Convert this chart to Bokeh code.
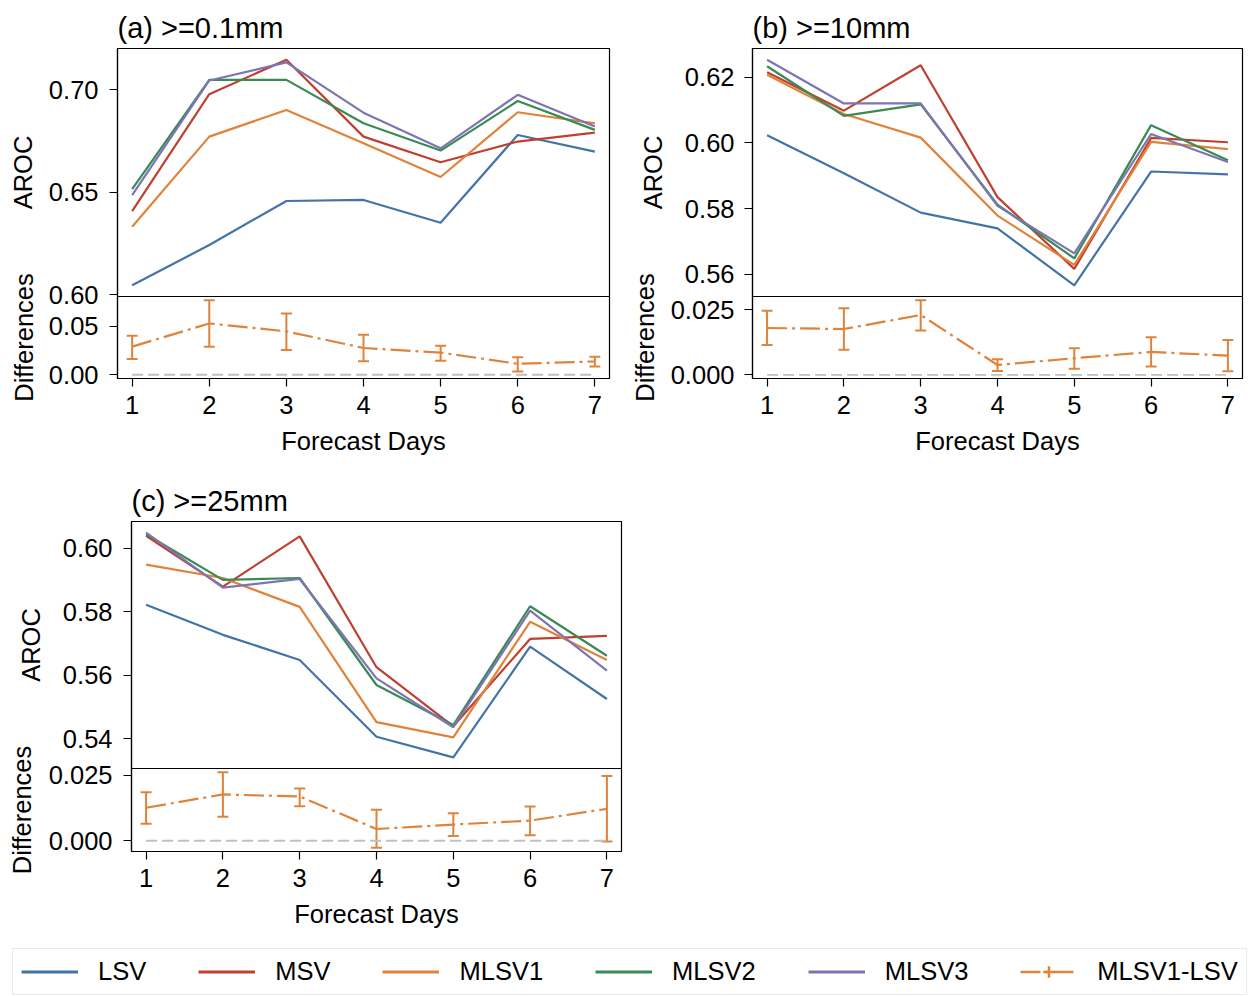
from bokeh.plotting import figure
from bokeh.models import (Range1d, FixedTicker, CustomJSTickFormatter, Whisker, TeeHead,
                          ColumnDataSource, Label, Legend, LegendItem, Span)
from bokeh.layouts import row, column
from bokeh.embed import file_html
from bokeh.resources import INLINE
import math

# ---------------- data ----------------
days = [1, 2, 3, 4, 5, 6, 7]
model_names = ["LSV", "MSV", "MLSV1", "MLSV2", "MLSV3"]
diff_name = "MLSV1-LSV"

a_LSV = [0.6047, 0.6243, 0.6458, 0.6463, 0.6352, 0.6780, 0.6699]
a_MSV = [0.6409, 0.6979, 0.7147, 0.6772, 0.6647, 0.6748, 0.6792]
a_MLSV1 = [0.6332, 0.6772, 0.6902, 0.6740, 0.6575, 0.6891, 0.6837]
a_MLSV2 = [0.6516, 0.7049, 0.7049, 0.6837, 0.6704, 0.6946, 0.6805]
a_MLSV3 = [0.6487, 0.7046, 0.7134, 0.6889, 0.6715, 0.6976, 0.6821]
a_diff = [0.0291, 0.0531, 0.0449, 0.0277, 0.0229, 0.0113, 0.0137]
a_lo = [0.0164, 0.0291, 0.0257, 0.0140, 0.0144, 0.0034, 0.0086]
a_hi = [0.0404, 0.0771, 0.0634, 0.0414, 0.0301, 0.0182, 0.0185]

b_LSV = [0.6023, 0.5908, 0.5788, 0.5740, 0.5567, 0.5913, 0.5904]
b_MSV = [0.6215, 0.6098, 0.6236, 0.5835, 0.5617, 0.6015, 0.6002]
b_MLSV1 = [0.6207, 0.6088, 0.6016, 0.5779, 0.5629, 0.6003, 0.5981]
b_MLSV2 = [0.6233, 0.6082, 0.6117, 0.5812, 0.5649, 0.6054, 0.5947]
b_MLSV3 = [0.6253, 0.6120, 0.6120, 0.5809, 0.5664, 0.6027, 0.5942]
b_diff = [0.0180, 0.0176, 0.0230, 0.0038, 0.0064, 0.0088, 0.0074]
b_lo = [0.0115, 0.0096, 0.0170, 0.0015, 0.0023, 0.0032, 0.0014]
b_hi = [0.0246, 0.0256, 0.0287, 0.0060, 0.0102, 0.0144, 0.0134]

c_LSV = [0.5823, 0.5728, 0.5649, 0.5407, 0.5342, 0.5691, 0.5526]
c_MSV = [0.6040, 0.5880, 0.6038, 0.5626, 0.5440, 0.5715, 0.5725]
c_MLSV1 = [0.5949, 0.5907, 0.5816, 0.5453, 0.5405, 0.5769, 0.5649]
c_MLSV2 = [0.6045, 0.5901, 0.5907, 0.5570, 0.5444, 0.5818, 0.5662]
c_MLSV3 = [0.6050, 0.5877, 0.5904, 0.5591, 0.5437, 0.5804, 0.5615]
c_diff = [0.0126, 0.0177, 0.0169, 0.0045, 0.0062, 0.0077, 0.0122]
c_lo = [0.0065, 0.0092, 0.0132, -0.0027, 0.0018, 0.0021, -0.0003]
c_hi = [0.0185, 0.0262, 0.0200, 0.0118, 0.0105, 0.0131, 0.0247]

zero_line = [0, 0, 0, 0, 0, 0, 0]

a_top_ticks = [0.60, 0.65, 0.70]
a_bot_ticks = [0.00, 0.05]
b_top_ticks = [0.56, 0.58, 0.60, 0.62]
b_bot_ticks = [0.000, 0.025]
c_top_ticks = [0.54, 0.56, 0.58, 0.60]
c_bot_ticks = [0.000, 0.025]

titles = ["(a) >=0.1mm", "(b) >=10mm", "(c) >=25mm"]
y_label_top = "AROC"
y_label_bot = "Differences"
x_label = "Forecast Days"

# ---------------- style ----------------
FONT = "Liberation Sans"
FS = "25.5px"
colors = {"LSV": "#4374a8", "MSV": "#c0402f", "MLSV1": "#e0833a",
          "MLSV2": "#3a8a55", "MLSV3": "#7d75b1"}
ORANGE = colors["MLSV1"]


def style_axis(ax, standoff):
    ax.axis_line_color = "black"
    ax.axis_line_width = 1.2
    ax.major_tick_line_color = "black"
    ax.major_tick_line_width = 1.2
    ax.major_tick_out = 8
    ax.major_tick_in = 0
    ax.minor_tick_line_color = None
    ax.major_label_text_font = FONT
    ax.major_label_text_font_size = FS
    ax.major_label_text_color = "black"
    ax.major_label_standoff = standoff
    ax.axis_label_text_font = FONT
    ax.axis_label_text_font_size = FS
    ax.axis_label_text_font_style = "normal"
    ax.axis_label_text_color = "black"


def make_panel(title, series, diff, lo, hi, top_rng, top_ticks, top_dec,
               bot_rng, bot_ticks, bot_dec, left, right, top_border, top_h, bot_h,
               bot_border, ystand):
    frame_w = 492
    frame_h = top_h + bot_h
    # the AROC scale fills the upper part of the frame, the difference scale the lower part
    t0, t1 = top_rng
    s = t1 - (t1 - t0) * frame_h / top_h
    d0, d1 = bot_rng
    de = d0 + (d1 - d0) * frame_h / bot_h

    p = figure(width=left + frame_w + right, height=top_border + frame_h + bot_border,
               x_range=Range1d(0.81, 7.19), y_range=Range1d(s, t1),
               extra_y_ranges={"diff": Range1d(d0, de)},
               toolbar_location=None, output_backend="svg", title=title,
               min_border_left=left, min_border_right=right,
               min_border_top=top_border, min_border_bottom=bot_border)
    p.title.text_font = FONT
    p.title.text_font_size = "29px"
    p.title.text_font_style = "normal"
    p.title.text_color = "black"
    p.title.align = "left"
    p.title.standoff = 9

    for name, vals in zip(model_names, series):
        p.line(days, vals, line_color=colors[name], line_width=2.2)

    p.line(days, zero_line, line_color="#c0c0c0", line_width=1.8, line_dash="11 5",
           y_range_name="diff")
    src = ColumnDataSource(dict(day=days, mid=diff, lo=lo, hi=hi))
    wh = Whisker(source=src, base="day", lower="lo", upper="hi", dimension="height",
                 y_range_name="diff", line_color=ORANGE, line_width=2,
                 upper_head=TeeHead(size=11, line_color=ORANGE, line_width=2),
                 lower_head=TeeHead(size=11, line_color=ORANGE, line_width=2))
    p.add_layout(wh)
    p.line("day", "mid", source=src, line_color=ORANGE, line_width=2.2,
           line_dash="20 5 3 5", y_range_name="diff")

    p.add_layout(Span(location=t0, dimension="width", line_color="black", line_width=1.2))

    # one left axis carrying both tick sets: difference ticks sit at their place on
    # the lower scale and are labelled in difference units
    conv = [s + (d - d0) / (de - d0) * (t1 - s) for d in bot_ticks]
    p.yaxis.ticker = FixedTicker(ticks=list(top_ticks) + conv)
    p.yaxis.formatter = CustomJSTickFormatter(
        args=dict(b=t0, s=s, e=t1, ds=d0, de=de, nt=top_dec, nd=bot_dec),
        code="""
        if (tick >= b - 1e-9) { return tick.toFixed(nt); }
        let d = ds + (tick - s) / (e - s) * (de - ds);
        if (Math.abs(d) < 1e-9) { d = 0; }
        return d.toFixed(nd);
        """)
    p.xaxis.ticker = FixedTicker(ticks=days)
    p.xaxis.axis_label = x_label
    style_axis(p.yaxis[0], ystand)
    style_axis(p.xaxis[0], 9)
    p.xaxis.axis_label_standoff = 10
    p.grid.visible = False
    p.outline_line_color = "black"
    p.outline_line_width = 1.2
    return p


def make_strip(width, height, labels):
    st = figure(width=width, height=height, x_range=Range1d(0, 1), y_range=Range1d(0, 1),
                toolbar_location=None, output_backend="svg", min_border=0,
                x_axis_location=None, y_axis_location=None)
    st.outline_line_color = None
    st.grid.visible = False
    for text, x, y in labels:
        st.add_layout(Label(x=x, y=y, x_units="screen", y_units="screen", text=text,
                            angle=math.pi / 2, text_align="center", text_baseline="middle",
                            text_font=FONT, text_font_size=FS, text_color="black"))
    return st


pA = make_panel(titles[0], [a_LSV, a_MSV, a_MLSV1, a_MLSV2, a_MLSV3],
                a_diff, a_lo, a_hi, (0.5992, 0.7202), a_top_ticks, 2,
                (-0.0039, 0.0810), a_bot_ticks, 2,
                72, 11, 48, 248, 82, 80, 11)
pB = make_panel(titles[1], [b_LSV, b_MSV, b_MLSV1, b_MLSV2, b_MLSV3],
                b_diff, b_lo, b_hi, (0.5533, 0.6287), b_top_ticks, 2,
                (-0.0014, 0.0301), b_bot_ticks, 3,
                83, 14, 48, 248, 82, 80, 10)
pC = make_panel(titles[2], [c_LSV, c_MSV, c_MLSV1, c_MLSV2, c_MLSV3],
                c_diff, c_lo, c_hi, (0.5307, 0.6085), c_top_ticks, 2,
                (-0.0041, 0.0276), c_bot_ticks, 3,
                84, 15, 63, 247, 83, 80, 11)

stripA = make_strip(45, 458, [(y_label_top, 22, 286), (y_label_bot, 23, 121)])
stripB = make_strip(47, 458, [(y_label_top, 32, 286), (y_label_bot, 24, 121)])
stripC = make_strip(45, 473, [(y_label_top, 30, 286.5), (y_label_bot, 21, 121.5)])

# ---------------- legend ----------------
# legend renderers hold the panel (a) data, outside the legend strip's visible x range
leg = figure(width=1256, height=65, x_range=Range1d(100, 101), y_range=Range1d(0, 1),
             toolbar_location=None, output_backend="svg", min_border=0,
             x_axis_location=None, y_axis_location=None)
leg.outline_line_color = None
leg.grid.visible = False
items = []
for name, vals in zip(model_names, [a_LSV, a_MSV, a_MLSV1, a_MLSV2, a_MLSV3]):
    r = leg.line(days, vals, line_color=colors[name], line_width=3)
    items.append(LegendItem(label=name, renderers=[r]))
rd = leg.line(days, a_diff, line_color=ORANGE, line_width=2.5, line_dash="20 5 3 5")
rc = leg.scatter(days, a_diff, marker="cross", line_color=ORANGE, line_width=2.5)
items.append(LegendItem(label=diff_name, renderers=[rd, rc]))
legend = Legend(items=items, orientation="horizontal", location=(12, 1),
                glyph_width=57, glyph_height=29, label_standoff=20, spacing=52,
                padding=8, margin=0, border_line_color="#d5d5d5", border_line_width=1.5,
                label_text_font=FONT, label_text_font_size=FS, label_text_color="black",
                background_fill_color="white")
leg.add_layout(legend)

layout = column(
    row(column(stripA), column(pA), column(stripB), column(pB)),
    row(column(stripC), column(pC)),
    row(leg),
)

open("out.html", "w").write(file_html(layout, INLINE))
